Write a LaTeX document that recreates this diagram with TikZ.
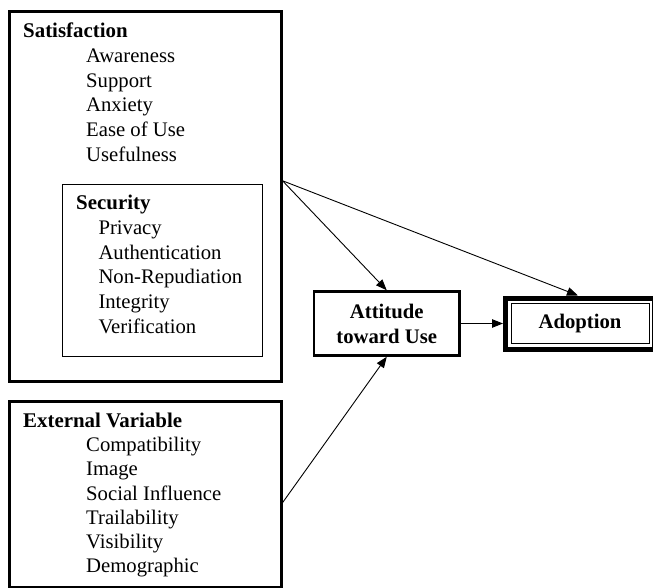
\documentclass[tikz,border=0pt]{standalone}
\usepackage{fontspec}
\setmainfont{Liberation Serif}
\usetikzlibrary{arrows.meta}

\begin{document}
\begin{tikzpicture}[x=1pt,y=-1pt,
  font=\fontsize{20.7}{25}\selectfont,
  frame/.style={draw,inner sep=0pt,line width=3pt},
  item/.style={anchor=base west,inner sep=0pt},
  head/.style={item,font=\fontsize{20.9}{25}\selectfont\bfseries},
  link/.style={-{Triangle[length=11pt,width=8.5pt]},line width=0.9pt}]
  % Page frame, in pixels of the 653x588 sketch (y grows downwards).
  \useasboundingbox (0,0) rectangle (653,588);

  % The two construct boxes on the left.
  \node[frame,minimum width=271.5pt,minimum height=369.5pt] (sat) at (145.25,196.25) {};
  \node[frame,line width=0.9pt,minimum width=200pt,minimum height=172pt] (sec) at (162.7,270) {};
  \node[frame,minimum width=271.5pt,minimum height=185.5pt] (ext) at (145.25,494.25) {};

  \node[head] (sathead) at (23,37.3) {Satisfaction};
  \foreach \lab [count=\i from 0] in {Awareness,Support,Anxiety,Ease of Use,Usefulness}
    \node[item] (sat\i) at (86,62.5+24.75*\i) {\lab};

  \node[head] (sechead) at (76,210) {Security};
  \foreach \lab [count=\i from 0] in {Privacy,Authentication,Non-Repudiation,Integrity,Verification}
    \node[item] (sec\i) at (98.3,234.3+24.75*\i) {\lab};

  \node[head] (exthead) at (23,427) {External Variable};
  \foreach \lab [count=\i from 0] in {Compatibility,Image,Social Influence,Trailability,Visibility,Demographic}
    \node[item] (ext\i) at (86,451.7+24.25*\i) {\lab};

  % Attitude and adoption.
  \node[frame,line width=2.5pt,minimum width=145.5pt,minimum height=64pt,
    font=\fontsize{20.7}{25}\selectfont\bfseries,align=center] (att) at (386.75,323.5) {Attitude\\toward Use};
  \node[frame,line width=5pt,minimum width=149pt,minimum height=51pt,
    font=\fontsize{20.7}{25}\selectfont\bfseries] (adopt) at (580,323.5) {Adoption};
  \draw[line width=0.9pt] ([shift={(8pt,-8pt)}]adopt.north west) rectangle ([shift={(-8pt,8pt)}]adopt.south east);

  % Links.
  \coordinate (satout) at ([yshift=15.5pt]sat.east);
  \coordinate (extout) at ([yshift=-8.5pt]ext.east);
  \draw[link] (satout) -- (att.north);
  \draw[link] (satout) -- ([xshift=-2pt]adopt.north);
  \draw[link] (extout) -- (att.south);
  \draw[link] (att.east) -- (adopt.west);
\end{tikzpicture}
\end{document}
